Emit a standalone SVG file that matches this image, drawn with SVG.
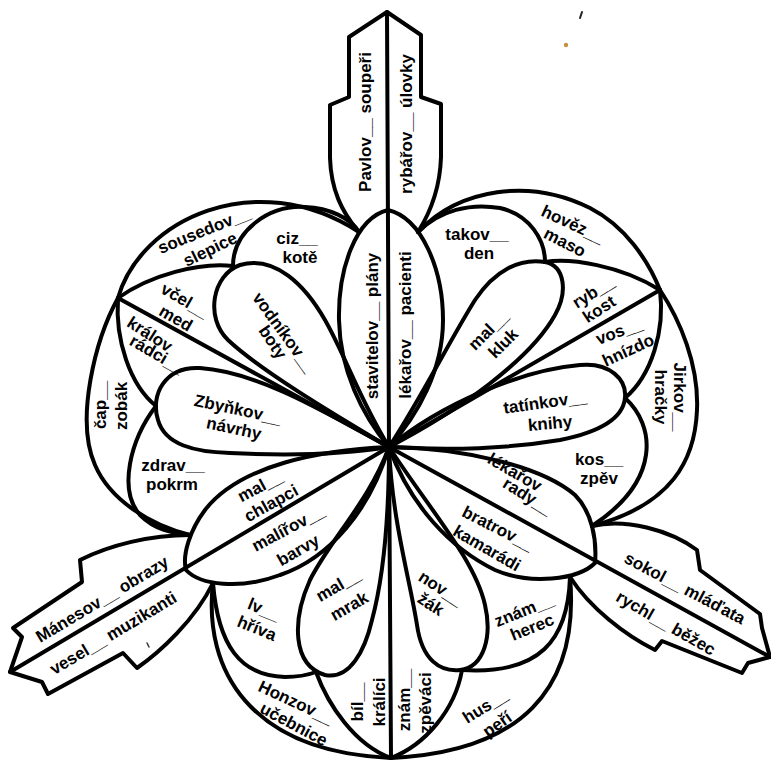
<svg xmlns="http://www.w3.org/2000/svg" width="771" height="760" viewBox="0 0 771 760">
<style>
.ln{fill:none;stroke:#000;stroke-width:4;stroke-linecap:round;stroke-linejoin:round}
.t{font-family:"Liberation Sans",Arial,sans-serif;font-weight:bold;font-size:17px;text-anchor:middle;fill:#000}
</style>
<rect width="771" height="760" fill="#fff"/>
<g id="outlines" class="ln">
  <!-- top leaf -->
  <path d="M358,231 C342,212 331,190 330,158 L330,105 L349,97 L349,37 L387,12 L421,35 L421,97 L441,104 L441,157 C440,190 430,213 418,232"/>
  <path d="M387,12 L389,447 L391,757"/>
  <path d="M388,210 C355,218 338,270 339,320 C340,370 362,415 389,447 C418,415 443,370 443,320 C443,270 422,218 388,210 Z"/>
  <!-- upper-left lobe -->
  <path d="M359,232 C255,165 140,220 118,298 C95,340 75,420 95,465 C110,500 150,525 190,535"/>
  <path d="M118,298 C150,275 200,262 233,266"/>
  <path d="M233,266 C233,230 270,205 305,207 C330,208 350,218 359,232"/>
  <path d="M389,447 C330,412 260,370 228,340 C205,318 212,275 240,265 C275,255 305,285 325,320 C345,355 360,400 389,447 Z"/>
  <path d="M389,447 L118,298"/>
  <path d="M389,447 C330,415 260,372 200,368 C165,366 150,395 158,420 C165,445 195,452 230,453 C290,456 340,455 389,447 Z"/>
  <path d="M118,298 C115,340 130,385 156,406"/>
  <path d="M156,406 C130,440 118,490 140,515 C155,530 172,533 190,535"/>
  <!-- lower-left petal and leaf -->
  <path d="M389,447 C320,450 240,465 205,510 C190,530 182,555 186,570 C200,585 240,590 280,575 C330,558 370,510 389,447 Z"/>
  <path d="M389,447 L10,672"/>
  <path d="M190,535 C150,535 110,545 80,560 L82,582 L13,628 L22,637 L10,672 L42,682 L48,694 L123,653 L137,668 C160,652 195,620 213,583"/>
  <!-- bottom lobe -->
  <path d="M213,583 C203,670 250,752 391,758 C520,752 580,690 570,577"/>
  <path d="M213,583 C218,645 240,676 285,677 C298,677 308,675 316,672"/>
  <path d="M316,672 C328,705 355,745 391,758"/>
  <path d="M389,447 C370,500 330,540 310,580 C292,620 292,665 325,675 C350,680 365,650 372,620 C380,590 389,540 389,447 Z"/>
  <path d="M389,447 C392,520 410,580 417,625 C422,660 440,672 460,670 C485,667 492,635 485,605 C475,560 430,510 389,447 Z"/>
  <path d="M570,577 C568,640 540,675 462,670"/>
  <path d="M462,670 C455,710 425,745 391,758"/>
  <!-- lower-right petal and leaf -->
  <path d="M389,447 C460,448 540,465 575,495 C592,512 597,540 595,563 C578,580 530,585 495,570 C450,548 410,505 389,447 Z"/>
  <path d="M389,447 L770,657"/>
  <path d="M592,526 C625,518 670,530 697,550 L700,570 L760,614 L762,628 L770,657 L748,663 L742,673 L662,641 L655,650 C625,635 590,608 570,577"/>
  <!-- upper-right lobe -->
  <path d="M418,232 C460,188 530,178 590,208 C625,226 648,260 660,290 C680,320 699,365 697,410 C695,460 672,505 592,526"/>
  <path d="M418,232 C440,210 470,203 500,208 C530,215 545,240 545,262"/>
  <path d="M545,262 C570,258 620,265 660,290"/>
  <path d="M389,447 C420,400 450,340 475,300 C495,270 520,258 545,262 C565,266 568,292 555,315 C530,360 460,410 389,447 Z"/>
  <path d="M389,447 L660,290"/>
  <path d="M389,447 C440,405 520,370 580,365 C610,362 627,380 625,398 C623,418 600,432 560,440 C500,450 440,450 389,447 Z"/>
  <path d="M660,290 C665,330 652,375 625,398"/>
  <path d="M625,398 C655,425 662,480 592,526"/>
</g>
<g id="marks">
  <path d="M580,18 L582,12" stroke="#222" stroke-width="2" stroke-linecap="round"/>
  <circle cx="566" cy="45" r="2.2" fill="#c89040"/>
  <path d="M147,643 L149,647" stroke="#333" stroke-width="1.5" stroke-linecap="round"/>
</g>
<g id="labels">
  <g id="top-leaf">
    <text class="t" transform="translate(365,122) rotate(-90)" y="6">Pavlov__ soupeři</text>
    <text class="t" transform="translate(406,124) rotate(-90)" y="6">rybářov__ úlovky</text>
  </g>
  <g id="top-petal">
    <text class="t" transform="translate(372,326) rotate(-90)" y="6">stavitelov__ plány</text>
    <text class="t" transform="translate(405,325) rotate(-90)" y="6">lékařov__ pacienti</text>
  </g>
  <g id="upper-left">
    <text class="t" transform="translate(204,230) rotate(-22)" y="6">sousedov__</text>
    <text class="t" transform="translate(210,249) rotate(-26)" y="6">slepice</text>
    <text class="t" transform="translate(297,238)" y="6">ciz__</text>
    <text class="t" transform="translate(300,257)" y="6">kotě</text>
    <text class="t" transform="translate(185,300) rotate(30)" y="6">včel__</text>
    <text class="t" transform="translate(176,318) rotate(30)" y="6">med</text>
    <text class="t" transform="translate(284,332) rotate(54)" y="6">vodníkov__</text>
    <text class="t" transform="translate(273,342) rotate(56)" y="6">boty</text>
    <text class="t" transform="translate(150,334) rotate(33)" y="6">králov</text>
    <text class="t" transform="translate(157,354) rotate(30)" y="6">rádci__</text>
    <text class="t" transform="translate(100,405) rotate(-90)" y="6">čap__</text>
    <text class="t" transform="translate(121,406) rotate(-90)" y="6">zobák</text>
    <text class="t" transform="translate(238,409) rotate(12)" y="6">Zbyňkov__</text>
    <text class="t" transform="translate(234,428) rotate(12)" y="6">návrhy</text>
    <text class="t" transform="translate(173,465)" y="6">zdrav__</text>
    <text class="t" transform="translate(172,484)" y="6">pokrm</text>
  </g>
  <g id="lower-left">
    <text class="t" transform="translate(260,486) rotate(-28)" y="6">mal__</text>
    <text class="t" transform="translate(271,503) rotate(-29)" y="6">chlapci</text>
    <text class="t" transform="translate(288,528) rotate(-28)" y="6">malířov__</text>
    <text class="t" transform="translate(298,550) rotate(-30)" y="6">barvy</text>
    <text class="t" transform="translate(102,599) rotate(-31)" y="6">Mánesov__ obrazy</text>
    <text class="t" transform="translate(113,633) rotate(-31)" y="6">vesel__ muzikanti</text>
  </g>
  <g id="bottom">
    <text class="t" transform="translate(264,609) rotate(22)" y="6">lv__</text>
    <text class="t" transform="translate(257,628) rotate(22)" y="6">hříva</text>
    <text class="t" transform="translate(338,585) rotate(-30)" y="6">mal__</text>
    <text class="t" transform="translate(349,606) rotate(-30)" y="6">mrak</text>
    <text class="t" transform="translate(296,702) rotate(25)" y="6">Honzov__</text>
    <text class="t" transform="translate(294,724) rotate(28)" y="6">učebnice</text>
    <text class="t" transform="translate(357,702) rotate(-90)" y="6">bíl__</text>
    <text class="t" transform="translate(379,702) rotate(-90)" y="6">králíci</text>
    <text class="t" transform="translate(404,700) rotate(-90)" y="6">znám__</text>
    <text class="t" transform="translate(425,703) rotate(-90)" y="6">zpěváci</text>
    <text class="t" transform="translate(441,588) rotate(33)" y="6">nov__</text>
    <text class="t" transform="translate(431,604) rotate(33)" y="6">žák</text>
    <text class="t" transform="translate(524,610) rotate(-22)" y="6">znám__</text>
    <text class="t" transform="translate(532,627) rotate(-22)" y="6">herec</text>
    <text class="t" transform="translate(485,706) rotate(-32)" y="6">hus__</text>
    <text class="t" transform="translate(497,724) rotate(-35)" y="6">peří</text>
  </g>
  <g id="lower-right">
    <text class="t" transform="translate(515,472) rotate(30)" y="6">lékařov</text>
    <text class="t" transform="translate(528,496) rotate(32)" y="6">rady__</text>
    <text class="t" transform="translate(498,528) rotate(27)" y="6">bratrov__</text>
    <text class="t" transform="translate(487,548) rotate(30)" y="6">kamarádi</text>
    <text class="t" transform="translate(685,588) rotate(28)" y="6">sokol__ mláďata</text>
    <text class="t" transform="translate(666,623) rotate(30)" y="6">rychl__ běžec</text>
  </g>
  <g id="upper-right">
    <text class="t" transform="translate(477,234)" y="6">takov__</text>
    <text class="t" transform="translate(479,253)" y="6">den</text>
    <text class="t" transform="translate(573,224) rotate(25)" y="6">hověz__</text>
    <text class="t" transform="translate(565,242) rotate(27)" y="6">maso</text>
    <text class="t" transform="translate(488,330) rotate(-45)" y="6">mal__</text>
    <text class="t" transform="translate(503,343) rotate(-45)" y="6">kluk</text>
    <text class="t" transform="translate(593,292) rotate(-32)" y="6">ryb__</text>
    <text class="t" transform="translate(599,309) rotate(-33)" y="6">kost</text>
    <text class="t" transform="translate(619,331) rotate(-20)" y="6">vos__</text>
    <text class="t" transform="translate(628,350) rotate(-25)" y="6">hnízdo</text>
    <text class="t" transform="translate(545,402) rotate(-8)" y="6">tatínkov__</text>
    <text class="t" transform="translate(550,423) rotate(-5)" y="6">knihy</text>
    <text class="t" transform="translate(680,397) rotate(90)" y="6">Jirkov__</text>
    <text class="t" transform="translate(661,397) rotate(90)" y="6">hračky</text>
    <text class="t" transform="translate(599,459)" y="6">kos__</text>
    <text class="t" transform="translate(599,478)" y="6">zpěv</text>
  </g>
</g>
</svg>
